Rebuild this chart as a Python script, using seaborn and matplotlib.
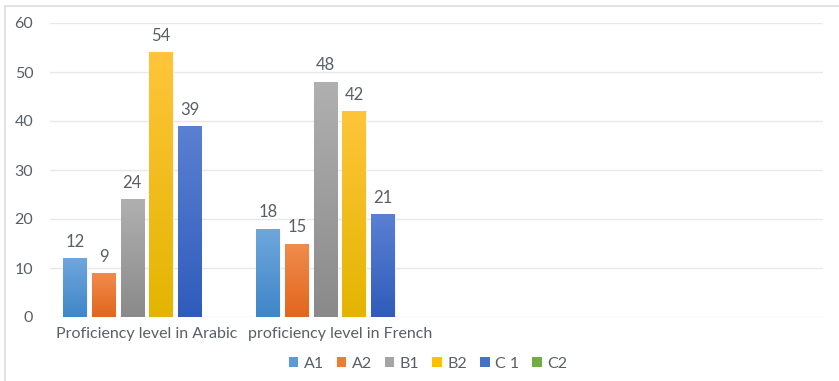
import numpy as np
import pandas as pd
import matplotlib
matplotlib.use("Agg")
import matplotlib.pyplot as plt
import seaborn as sns
from matplotlib.colors import LinearSegmentedColormap
from matplotlib.lines import Line2D
from matplotlib.patches import Patch

categories = ["Proficiency level in Arabic", "proficiency level in French", " ", "  "]
levels = ["A1", "A2", "B1", "B2", "C 1", "C2"]
arabic = [12, 9, 24, 54, 39, None]
french = [18, 15, 48, 42, 21, None]

# (top, bottom) gradient colours for each level
top_colors = ["#6fa7dc", "#f08c4e", "#b0b0b0", "#ffc53a", "#5a80d2", "#7ab552"]
bottom_colors = ["#3f86c8", "#e2661c", "#8a8a8a", "#e3b500", "#2f5cbb", "#5c9a35"]
legend_colors = ["#5b9bd5", "#ed7d31", "#a5a5a5", "#ffc000", "#4472c4", "#70ad47"]

rows = []
for lvl, a, f in zip(levels, arabic, french):
    rows.append({"cat": categories[0], "level": lvl, "value": a if a is not None else np.nan})
    rows.append({"cat": categories[1], "level": lvl, "value": f if f is not None else np.nan})
    rows.append({"cat": categories[2], "level": lvl, "value": np.nan})
    rows.append({"cat": categories[3], "level": lvl, "value": np.nan})
df = pd.DataFrame(rows)

sns.set_theme(style="white")
plt.rcParams["font.family"] = ["Lato", "DejaVu Sans"]
text_grey = "#5a5f66"

fig = plt.figure(figsize=(8.39, 3.81), dpi=100)
ax = fig.add_axes([50 / 839, 1 - 317 / 381, 773 / 839, 294 / 381])

sns.barplot(data=df, x="cat", y="value", hue="level", order=categories,
            hue_order=levels, palette=legend_colors, width=0.89, gap=0.18,
            legend=False, ax=ax, errorbar=None, edgecolor="none")

ax.set_ylim(0, 60)
ax.set_xlim(-0.5, 3.5)
ax.set_yticks(range(0, 61, 10))
ax.yaxis.grid(True, color="#e6e8ec", linewidth=1.0)
ax.set_axisbelow(True)
for s in ax.spines.values():
    s.set_visible(False)
ax.set_xlabel("")
ax.set_ylabel("")
ax.tick_params(axis="y", length=0, pad=12, labelsize=11.5, labelcolor=text_grey)
ax.tick_params(axis="x", length=0, pad=7, labelsize=11.5, labelcolor=text_grey)

# gradient fills and value labels
grad = np.linspace(0, 1, 256).reshape(-1, 1)
for container, top, bot, lvl in zip(ax.containers, top_colors, bottom_colors, levels):
    cmap = LinearSegmentedColormap.from_list(lvl, [bot, top])
    for bar in container:
        h = bar.get_height()
        if not np.isfinite(h) or h <= 0:
            continue
        x0, w = bar.get_x(), bar.get_width()
        bar.set_facecolor("none")
        bar.set_edgecolor("#f4f6fa")
        bar.set_linewidth(0.8)
        im = ax.imshow(grad, cmap=cmap, origin="lower", aspect="auto",
                       extent=(x0, x0 + w, 0, h), zorder=2)
        im.set_clip_path(bar)
        ax.text(x0 + w / 2, h + 1.7, f"{h:g}", ha="center", va="bottom",
                fontsize=12, color=text_grey)
ax.set_xlim(-0.5, 3.5)
ax.set_ylim(0, 60)

handles = [Patch(facecolor=c, edgecolor="none") for c in legend_colors]
fig.legend(handles, levels, loc="center", bbox_to_anchor=(428 / 839, 1 - 364 / 381),
           ncol=6, frameon=False, fontsize=11.5, labelcolor=text_grey,
           handlelength=0.6, handleheight=0.6, handletextpad=0.35, columnspacing=0.8)

# chart frame (top and left edges)
fig.add_artist(Line2D([5 / 839, 1], [1 - 6 / 381, 1 - 6 / 381], color="#d9dde5", linewidth=1.2))
fig.add_artist(Line2D([5 / 839, 5 / 839], [0, 1 - 6 / 381], color="#d9dde5", linewidth=1.2))

fig.savefig("out.png", dpi=100, facecolor="white")
